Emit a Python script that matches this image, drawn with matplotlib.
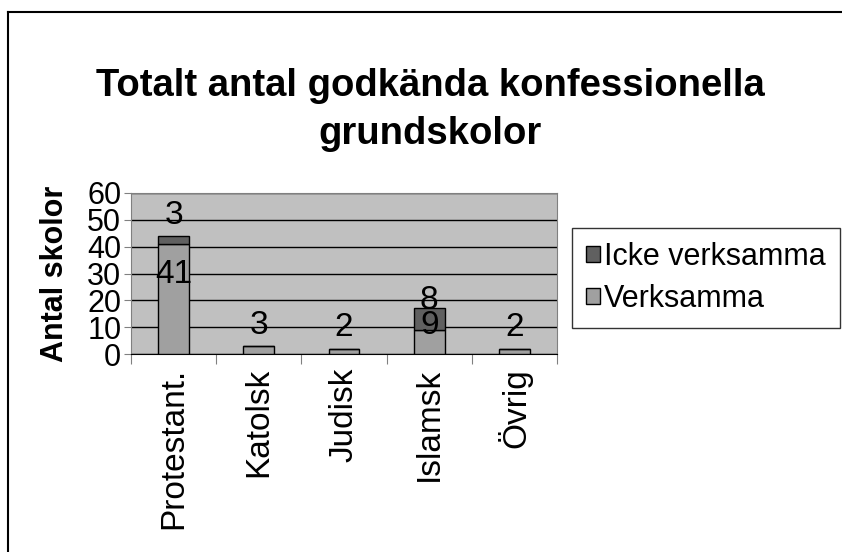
import matplotlib
matplotlib.use("Agg")
import matplotlib.pyplot as plt
from matplotlib.lines import Line2D
from matplotlib.patches import Patch

plt.rcParams['font.family'] = ['Liberation Sans', 'DejaVu Sans']

categories = ["Protestant.", "Katolsk", "Judisk", "Islamsk", "Övrig"]
verksamma = [41, 3, 2, 9, 2]
icke_verksamma = [3, 0, 0, 8, 0]
yticks = [0, 10, 20, 30, 40, 50, 60]

W, H = 842, 552
fig = plt.figure(figsize=(W / 100, H / 100), dpi=100)
# outer chart border (left and top visible; right/bottom outside the picture)
fig.add_artist(Line2D([8 / W, 8 / W], [0, 1 - 12 / H], transform=fig.transFigure,
                      color='black', linewidth=1.5))
fig.add_artist(Line2D([8 / W, 1], [1 - 12 / H, 1 - 12 / H], transform=fig.transFigure,
                      color='black', linewidth=1.5))

ax = fig.add_axes([131 / W, 1 - 354 / H, (557 - 131) / W, (354 - 193) / H])
ax.set_facecolor('#C0C0C0')

x = range(len(categories))
w = 0.36
ax.bar(x, verksamma, width=w, color='#A0A0A0', edgecolor='black', linewidth=1, zorder=3)
ax.bar(x, icke_verksamma, width=w, bottom=verksamma, color='#606060', edgecolor='black',
       linewidth=1, zorder=3)

off = 9
for i in x:
    v = verksamma[i]
    iv = icke_verksamma[i]
    ax.text(i, v / 2 + off - (3 if iv and v < 20 else 0), str(v), ha='center', va='center',
            fontsize=24, zorder=5)
    if iv:
        ax.text(i, v + iv / 2 + off - (2 if v < 20 else 0), str(iv), ha='center',
                va='center', fontsize=24, zorder=5)

ax.set_ylim(0, 60)
ax.set_xlim(-0.5, len(categories) - 0.5)
ax.set_yticks(yticks)
ax.set_yticklabels([str(t) for t in yticks], fontsize=22)
ax.yaxis.grid(True, color='black', linewidth=1)
ax.set_axisbelow(True)
ax.set_xticks([i - 0.5 for i in range(len(categories) + 1)])
ax.set_xticklabels([])
ax.set_xticks(list(x), minor=True)
ax.set_xticklabels(categories, minor=True, rotation=90, fontsize=24)
ax.tick_params(axis='x', which='minor', length=0, pad=10)
ax.tick_params(axis='x', which='major', length=7, color='gray')
ax.tick_params(axis='y', length=5, pad=2, color='gray')
for s in ['top', 'right', 'left']:
    ax.spines[s].set_color('gray')
ax.spines['bottom'].set_color('black')
ax.set_ylabel('Antal skolor', fontsize=22, fontweight='bold', labelpad=12)

handles = [Patch(facecolor='#606060', edgecolor='black'),
           Patch(facecolor='#A0A0A0', edgecolor='black')]
fig.legend(handles, ['Icke verksamma', 'Verksamma'], loc='upper left',
           bbox_to_anchor=(572 / W, 1 - 228 / H), fontsize=22, frameon=True, fancybox=False,
           edgecolor='black', handlelength=0.45, handleheight=0.45, handletextpad=0.15,
           borderpad=0.45, labelspacing=0.4, borderaxespad=0)

fig.text(430 / W, 1 - 110 / H, 'Totalt antal godkända konfessionella\ngrundskolor',
         ha='center', va='center', fontsize=27.5, fontweight='bold', linespacing=1.4)

fig.savefig('out.png', dpi=100)
